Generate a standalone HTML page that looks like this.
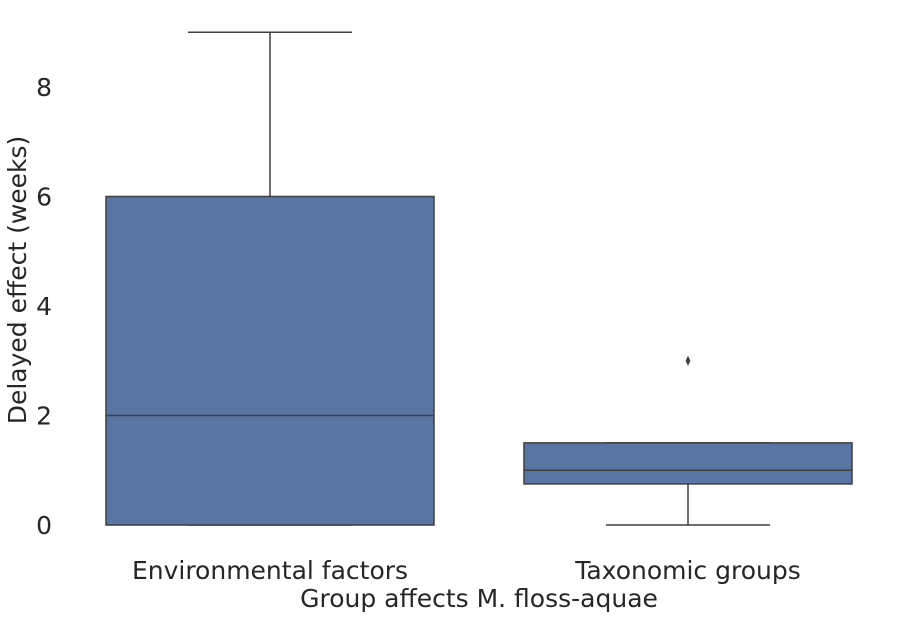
<!DOCTYPE html>
<html><head><meta charset="utf-8"><style>
body{margin:0;background:#fff;}
svg text{font-family:"DejaVu Sans","Liberation Sans",sans-serif;fill:#262626;}
</style></head><body>
<svg id="chart" width="904" height="619" xmlns="http://www.w3.org/2000/svg">
<g id="plot"></g>
<g id="yticks"></g>
<g id="xticks"></g>
<text x="479" y="607" font-size="25" text-anchor="middle">Group affects M. floss-aquae</text>
<text transform="translate(26,280) rotate(-90)" font-size="25" text-anchor="middle">Delayed effect (weeks)</text>
</svg>
<script>
const categories=["Environmental factors","Taxonomic groups"];
const q1=[0,0.75];
const medians=[2,1];
const q3=[6,1.5];
const whiskLow=[0,0];
const whiskHigh=[9,1.5];
const outliers=[[],[3]];
const yTicks=[0,2,4,6,8];

const NS="http://www.w3.org/2000/svg";
function y(v){return 525-v*54.75;}
function xc(i){return 270+i*418;}
const boxW=328;
function mk(tag,attrs,parent){const e=document.createElementNS(NS,tag);for(const k in attrs)e.setAttribute(k,attrs[k]);parent.appendChild(e);return e;}
const plot=document.getElementById('plot');
const stroke="#3f3f3f";
categories.forEach((c,i)=>{
  const cx=xc(i);
  const g=mk('g',{},plot);
  
  
  let l=mk('line',{x1:cx,x2:cx,y1:y(q3[i]),y2:y(whiskHigh[i]),stroke:stroke,'stroke-width':1.5},g);
  
  
  l=mk('line',{x1:cx,x2:cx,y1:y(q1[i]),y2:y(whiskLow[i]),stroke:stroke,'stroke-width':1.5},g);
  
  
  [whiskHigh[i],whiskLow[i]].forEach(v=>{
    const cp=mk('line',{x1:cx-boxW/4,x2:cx+boxW/4,y1:y(v),y2:y(v),stroke:stroke,'stroke-width':1.5},g);
    
    
  });
  const r=mk('rect',{x:cx-boxW/2,y:y(q3[i]),width:boxW,height:y(q1[i])-y(q3[i]),fill:"#5875a4",stroke:stroke,'stroke-width':1.5},g);
  
  
  const m=mk('line',{x1:cx-boxW/2,x2:cx+boxW/2,y1:y(medians[i]),y2:y(medians[i]),stroke:stroke,'stroke-width':1.5},g);
  
  
  outliers[i].forEach(v=>{
    const o=mk('path',{d:`M${cx},${y(v)-5}L${cx+2.5},${y(v)}L${cx},${y(v)+5}L${cx-2.5},${y(v)}Z`,fill:stroke},g);
    
    
  });
  const t=mk('text',{x:cx,y:579,'font-size':25,'text-anchor':'middle'},document.getElementById('xticks'));
  t.textContent=c;
  
  
});
yTicks.forEach(v=>{
  const t=mk('text',{x:52,y:y(v)+9,'font-size':25,'text-anchor':'end'},document.getElementById('yticks'));
  t.textContent=v;
  
  
});
</script>
</body></html>
